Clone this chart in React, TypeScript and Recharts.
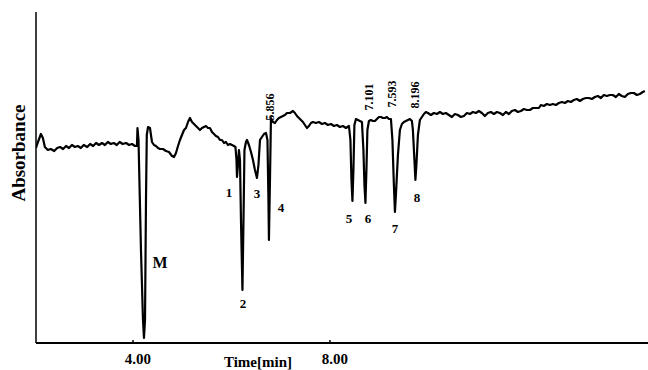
import { LineChart, Line, XAxis, YAxis, ReferenceDot } from "recharts";

// chromatogram trace: retention time (min) and detector response (arb. units)
const timeMin = [
  2.03, 2.07, 2.13, 2.17, 2.21, 2.27, 2.33, 2.4, 2.46, 2.52, 2.58, 2.64, 2.7, 2.76, 2.82, 2.88, 2.94, 3.0,
  3.07, 3.13, 3.19, 3.25, 3.31, 3.37, 3.43, 3.49, 3.55, 3.61, 3.67, 3.73, 3.79, 3.86, 3.92, 3.98, 4.04, 4.08,
  // M
  4.091, 4.112, 4.162, 4.203, 4.223, 4.244, 4.264, 4.28, 4.305, 4.345, 4.365, 4.386, 4.426, 4.467, 4.508,
  4.548, 4.609, 4.67, 4.731, 4.792, 4.833, 4.873, 4.914, 4.954, 4.995, 5.036, 5.076, 5.117, 5.157, 5.198,
  5.239, 5.279, 5.32, 5.36, 5.401, 5.442, 5.482, 5.523, 5.563, 5.604, 5.645, 5.685, 5.726, 5.766, 5.807,
  5.848, 5.888, 5.929, 5.97, 6.01, 6.051, 6.081,
  // 1 - 4
  6.102, 6.112, 6.132, 6.152, 6.173, 6.193, 6.223, 6.244, 6.264, 6.294, 6.315, 6.355, 6.396, 6.437, 6.477,
  6.518, 6.548, 6.579, 6.619, 6.66, 6.701, 6.731, 6.751, 6.761, 6.782, 6.802, 6.843, 6.883, 6.924, 6.964,
  7.005, 7.046, 7.086, 7.127, 7.188, 7.249, 7.289, 7.33, 7.371, 7.411, 7.452, 7.492, 7.533, 7.574, 7.614,
  7.655, 7.716, 7.777, 7.838, 7.898, 7.959, 8.02, 8.081, 8.142, 8.203, 8.264, 8.325, 8.386,
  // 5 - 8
  8.416, 8.437, 8.457, 8.477, 8.497, 8.528, 8.569, 8.609, 8.65, 8.68, 8.701, 8.721, 8.741, 8.761, 8.792,
  8.832, 8.873, 8.914, 8.954, 8.995, 9.036, 9.076, 9.117, 9.157, 9.198, 9.239, 9.269, 9.299, 9.32, 9.34,
  9.381, 9.421, 9.462, 9.503, 9.543, 9.584, 9.624, 9.665, 9.685, 9.716, 9.736, 9.756, 9.787, 9.827, 9.868,
  9.909, 9.949, 9.99,
  // drifting baseline
  10.051, 10.112, 10.173, 10.234, 10.294, 10.355, 10.416, 10.477, 10.538, 10.599, 10.66, 10.721, 10.782,
  10.843, 10.904, 10.964, 11.025, 11.086, 11.147, 11.208, 11.269, 11.33, 11.391, 11.452, 11.513, 11.574,
  11.635, 11.695, 11.756, 11.817, 11.878, 11.939, 12.0, 12.061, 12.122, 12.183, 12.244, 12.284, 12.345,
  12.406, 12.467, 12.528, 12.589, 12.65, 12.711, 12.772, 12.832, 12.893, 12.954, 13.015, 13.076, 13.137,
  13.198, 13.259, 13.32, 13.381, 13.442, 13.503, 13.563, 13.624, 13.685, 13.746, 13.807, 13.868, 13.929,
  13.99, 14.051, 14.112, 14.173, 14.234, 14.294, 14.355, 14.396,
];

const absorbance = [
  195, 201, 209, 205, 196, 193, 194, 192, 195, 196, 194, 197, 195, 198, 196, 197, 195, 198,
  196, 199, 197, 200, 198, 200, 198, 201, 199, 200, 198, 201, 199, 200, 198, 199, 197, 197,
  // M
  215, 203, 93, 23, 5, 23, 143, 208, 216, 215, 208, 201, 198, 197, 195,
  194, 194, 192, 191, 187, 186, 190, 197, 203, 208, 213, 215, 221, 225, 221,
  219, 217, 215, 213, 215, 216, 217, 215, 215, 211, 209, 207, 206, 203, 203,
  200, 201, 198, 199, 198, 197, 196,
  // 1 - 4
  183, 166, 178, 193, 183, 123, 53, 123, 193, 201, 203, 198, 191, 183, 173,
  165, 178, 203, 206, 209, 210, 203, 143, 103, 163, 225, 221, 220, 223, 225,
  226, 227, 228, 230, 230, 232, 230, 227, 225, 223, 221, 218, 215, 217, 220,
  221, 220, 221, 219, 220, 218, 219, 217, 218, 216, 217, 215, 217,
  // 5 - 8
  203, 163, 142, 173, 218, 224, 223, 222, 221, 193, 158, 140, 173, 213, 222,
  223, 222, 222, 224, 226, 226, 225, 225, 226, 224, 224, 203, 158, 131, 148,
  188, 213, 219, 221, 222, 223, 224, 222, 213, 183, 163, 178, 208, 223, 226,
  229, 231, 230,
  // drifting baseline
  228, 230, 229, 231, 229, 230, 228, 226, 229, 228, 226, 227, 230,
  229, 231, 230, 232, 230, 227, 230, 231, 229, 231, 230, 228, 231,
  229, 232, 233, 231, 232, 234, 233, 233, 235, 235, 235, 238, 237,
  239, 238, 239, 238, 240, 241, 240, 242, 241, 243, 244, 242, 244,
  245, 245, 244, 246, 247, 245, 248, 247, 248, 248, 246, 249, 247,
  246, 249, 250, 250, 248, 249, 251, 252,
];

// peak numbering written under each dip
const peakNames = ["M", "1", "2", "3", "4", "5", "6", "7", "8"];
const peakLabelTime = [4.548, 5.949, 6.234, 6.518, 7.005, 8.386, 8.772, 9.32, 9.767];
const peakLabelAbs = [81, 151, 40, 150, 136, 125, 125, 115, 146];

// retention times printed vertically above the peaks
const rtText = ["5.856", "7.101", "7.593", "8.196"];
const rtTime = [6.782, 8.792, 9.259, 9.726];
const rtAbs = [236, 246, 249, 248];

const xTicks = [4, 8];

const data = timeMin.map((t, i) => ({ t, abs: absorbance[i] }));

const SERIF = "'Liberation Serif', 'Times New Roman', serif";

// small upward tick mark + bold label
const TimeTick = ({ x, y, payload }: any) => (
  <g>
    <line x1={x} y1={y} x2={x} y2={y - 3} stroke="#000" strokeWidth={1.5} />
    <text x={x + 5} y={y + 21} textAnchor="middle" fontFamily={SERIF} fontSize={15} fontWeight="bold" fill="#000">
      {Number(payload.value).toFixed(2)}
    </text>
  </g>
);

const TimeTitle = ({ viewBox }: any) => (
  <text x={viewBox.x + 222} y={viewBox.y + 24} textAnchor="middle" fontFamily={SERIF} fontSize={15} fontWeight="bold" fill="#000">
    Time[min]
  </text>
);

const AbsTitle = () => (
  <text
    x={18}
    y={153}
    transform="rotate(-90 18 153)"
    textAnchor="middle"
    dominantBaseline="central"
    fontFamily={SERIF}
    fontSize={19}
    fontWeight="bold"
    fill="#000"
  >
    Absorbance
  </text>
);

export default function App() {
  return (
    <div style={{ position: "absolute", left: 0, top: 0, width: 648, height: 370, background: "#fff" }}>
      <LineChart width={648} height={370} data={data} margin={{ top: 12, right: 0, bottom: 0, left: 0 }}>
        <XAxis
          type="number"
          dataKey="t"
          domain={[2.03, 14.46]}
          ticks={xTicks}
          allowDataOverflow
          height={27}
          tickSize={0}
          tickMargin={0}
          tickLine={false}
          axisLine={{ stroke: "#000", strokeWidth: 2 }}
          tick={<TimeTick />}
          label={<TimeTitle />}
        />
        <YAxis
          type="number"
          domain={[0, 331]}
          allowDataOverflow
          width={36}
          tick={false}
          tickLine={false}
          axisLine={{ stroke: "#000", strokeWidth: 1.5 }}
          label={<AbsTitle />}
        />
        <Line
          type="linear"
          dataKey="abs"
          stroke="#000"
          strokeWidth={2.2}
          strokeLinejoin="round"
          dot={false}
          isAnimationActive={false}
        />
        {peakNames.map((name, i) => (
          <ReferenceDot
            key={name}
            x={peakLabelTime[i]}
            y={peakLabelAbs[i]}
            r={0}
            shape={(p: any) => (
              <text
                x={p.cx}
                y={p.cy}
                textAnchor="middle"
                dominantBaseline="central"
                fontFamily={SERIF}
                fontSize={name === "M" ? 16 : 13}
                fontWeight="bold"
                fill="#000"
              >
                {name}
              </text>
            )}
          />
        ))}
        {rtText.map((label, i) => (
          <ReferenceDot
            key={label}
            x={rtTime[i]}
            y={rtAbs[i]}
            r={0}
            shape={(p: any) => (
              <text
                x={p.cx}
                y={p.cy}
                transform={`rotate(-90 ${p.cx} ${p.cy})`}
                textAnchor="middle"
                dominantBaseline="central"
                fontFamily={SERIF}
                fontSize={12}
                fontWeight="bold"
                fill="#000"
              >
                {label}
              </text>
            )}
          />
        ))}
      </LineChart>
    </div>
  );
}
